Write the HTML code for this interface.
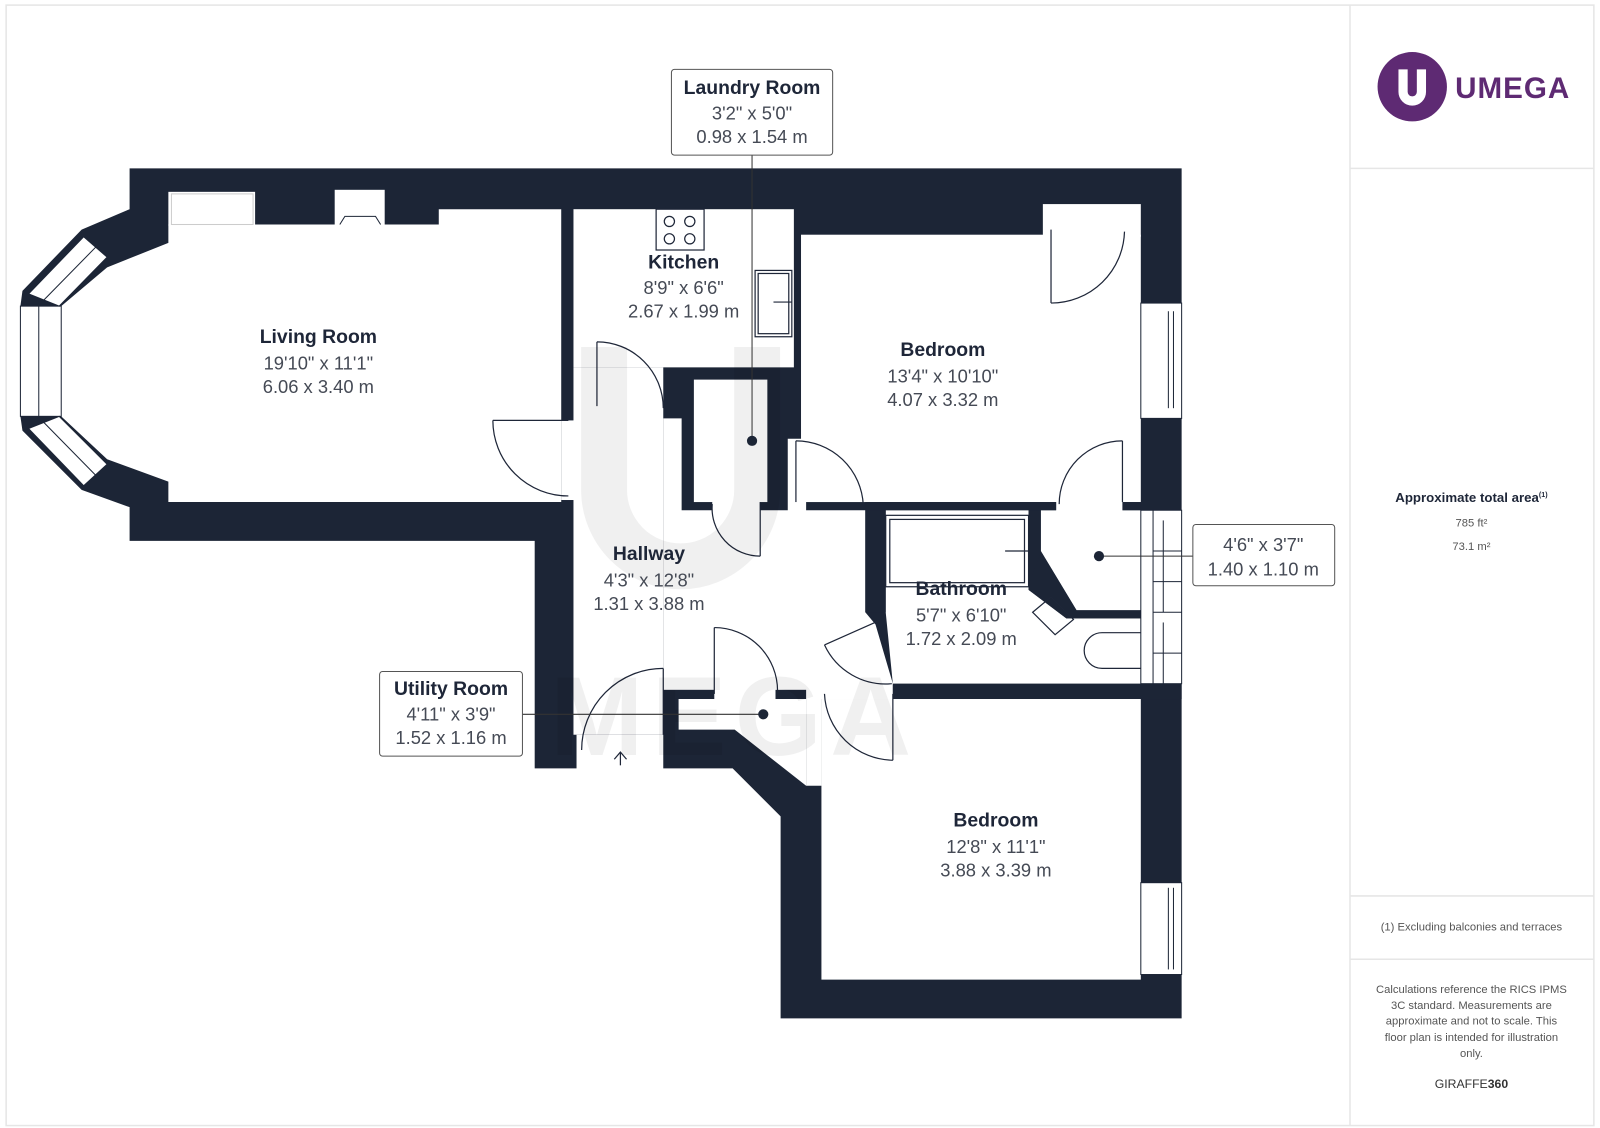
<!DOCTYPE html>
<html><head><meta charset="utf-8"><style>
body{margin:0;background:#fff}
svg{display:block}
text{font-family:"Liberation Sans",sans-serif}
.t{font-size:19px;font-weight:bold;fill:#1e2638;text-anchor:middle}
.d{font-size:18px;fill:#454a55;text-anchor:middle}
.s{font-size:11px;fill:#555;text-anchor:middle}
.ln{fill:none;stroke:#1e2638;stroke-width:1.2}
</style></head><body>
<svg width="1600" height="1128" viewBox="0 0 1568 1105.4" preserveAspectRatio="none" xmlns="http://www.w3.org/2000/svg">
<rect x="6" y="5" width="1556" height="1098" fill="#fff" stroke="#e6e6e6" stroke-width="1.5"/>
<line x1="1323" y1="5" x2="1323" y2="1103" stroke="#e6e6e6" stroke-width="1.5"/>
<line x1="1323" y1="165" x2="1562" y2="165" stroke="#e6e6e6" stroke-width="1.5"/>
<line x1="1323" y1="878" x2="1562" y2="878" stroke="#e6e6e6" stroke-width="1.5"/>
<line x1="1323" y1="940" x2="1562" y2="940" stroke="#e6e6e6" stroke-width="1.5"/>

<polygon fill="#1c2536" points="127,165 1158,165 1158,998 765,998 765,800 718,753 650,753 650,720 565,720 565,753 524,753 524,530 127,530 127,497 80,480 22,422 20,408 20,300 22,285 80,225 127,205"/>

<g fill="#fff">
<polygon points="165,220 165,238 105,262 60,300 60,408 105,450 165,472 165,492 550,492 550,205 430,205 430,220"/>
<rect x="165" y="188" width="85" height="33"/>
<rect x="328" y="186" width="49" height="35"/>
<rect x="562" y="205" width="216" height="155"/>
<rect x="562" y="360" width="88" height="360"/>
<rect x="550" y="412" width="14" height="78"/>
<rect x="680" y="372" width="72" height="120"/>
<polygon points="650,410 668,410 668,500 772,500 772,430 790,430 790,500 848,500 848,600 858,612 875,670 875,685 790,685 790,700 650,700"/>
<rect x="698" y="490" width="47" height="12"/>
<rect x="785" y="230" width="333" height="262"/>
<rect x="1022" y="200" width="96" height="32"/>
<rect x="1035" y="490" width="65" height="12"/>
<polygon points="1020,500 1118,500 1118,598 1055,598 1020,540"/>
<polygon points="868,500 1008,500 1008,578 1045,606 1118,606 1118,670 875,670 868,600"/>
<rect x="805" y="685" width="313" height="275"/>
<rect x="790" y="680" width="15" height="90"/>
<polygon points="665,685 790,685 790,770 720,715 665,715"/>
<rect x="700" y="676" width="60" height="12"/>
</g>
<g fill="#fff" stroke="#1c2536" stroke-width="1">
<rect x="20" y="300" width="40" height="108"/><line x1="38" y1="300" x2="38" y2="408"/>
<polygon points="28,288 82,232 105,252 58,300"/><line x1="43" y1="294" x2="94" y2="242"/>
<polygon points="28,420 58,408 105,455 82,476"/><line x1="43" y1="414" x2="94" y2="466"/>
<rect x="1118" y="297" width="40" height="113"/><line x1="1145" y1="305" x2="1145" y2="400"/><line x1="1150" y1="305" x2="1150" y2="400"/>
<rect x="1118" y="500" width="40" height="170"/><line x1="1130" y1="500" x2="1130" y2="670"/><line x1="1140" y1="510" x2="1140" y2="600"/><line x1="1140" y1="610" x2="1140" y2="670"/>
<line x1="1130" y1="540" x2="1158" y2="540"/><line x1="1130" y1="570" x2="1158" y2="570"/><line x1="1130" y1="600" x2="1158" y2="600"/><line x1="1130" y1="640" x2="1158" y2="640"/>
<rect x="1118" y="865" width="40" height="90"/><line x1="1145" y1="870" x2="1145" y2="950"/><line x1="1150" y1="870" x2="1150" y2="950"/>
<rect x="168" y="190" width="80" height="30" stroke="#ccc"/>
<path d="M333,220 L338,212 L368,212 L373,220" fill="none"/>
</g>
<g fill="#1c2536">
<rect x="1008" y="500" width="12" height="78"/>
<polygon points="1008,575 1020,540 1055,598 1118,598 1118,606 1045,606 1008,578"/>
<rect x="848" y="492" width="187" height="8"/>
<rect x="1100" y="492" width="18" height="8"/>
<rect x="848" y="500" width="20" height="100"/>
<rect x="875" y="670" width="283" height="15"/>
<rect x="650" y="676" width="50" height="9"/><rect x="760" y="676" width="30" height="9"/>
<rect x="650" y="685" width="15" height="35"/>
</g>
<g class="ln">
<rect x="643" y="205" width="47" height="40"/>
<circle cx="656" cy="217" r="5"/><circle cx="676" cy="217" r="5"/><circle cx="656" cy="234" r="5"/><circle cx="676" cy="234" r="5"/>
<rect x="740" y="265" width="36" height="65"/><rect x="743" y="268" width="30" height="59"/><line x1="758" y1="296" x2="776" y2="296"/>
<rect x="868" y="505" width="140" height="70"/><rect x="872" y="509" width="132" height="62"/><line x1="985" y1="540" x2="1008" y2="540"/>
<polygon points="1012,600 1030,585 1052,607 1034,622"/>
<path d="M1118,620 L1080,620 A17,17 0 0 0 1080,655 L1118,655"/>
<line x1="483" y1="412" x2="557" y2="412"/><path d="M483,412 A74,74 0 0 0 557,486"/>
<line x1="585" y1="335" x2="585" y2="398"/><path d="M585,335 A65,65 0 0 1 650,400"/>
<line x1="745" y1="492" x2="745" y2="545"/><path d="M698,494 A47,47 0 0 0 745,545"/>
<line x1="780" y1="432" x2="780" y2="492"/><path d="M780,432 A66,66 0 0 1 846,495"/>
<line x1="1100" y1="432" x2="1100" y2="492"/><path d="M1100,432 A62,62 0 0 0 1038,494"/>
<line x1="1030" y1="225" x2="1030" y2="297"/><path d="M1030,297 A72,72 0 0 0 1102,227"/>
<line x1="862" y1="608" x2="808" y2="632"/><path d="M808,632 A66,66 0 0 0 874,670"/>
<line x1="650" y1="655" x2="650" y2="720"/><path d="M650,655 A80,80 0 0 0 570,735"/>
<line x1="700" y1="615" x2="700" y2="680"/><path d="M700,615 A62,62 0 0 1 762,677"/>
<line x1="875" y1="680" x2="875" y2="745"/><path d="M875,745 A68,68 0 0 1 808,680"/>
<line x1="608" y1="750" x2="608" y2="737"/><path d="M602,744 L608,737 L614,744"/>
</g>
<path d="M592,340 L592,480 A75,75 0 0 0 742,480 L742,340" fill="none" stroke="#000" stroke-opacity="0.06" stroke-width="45"/>
<text x="720" y="740" font-size="110" font-weight="bold" fill="#000" fill-opacity="0.06" text-anchor="middle" style="letter-spacing:8px">MEGA</text>

<text class="t" x="312" y="336">Living Room</text><text class="d" x="312" y="362">19'10" x 11'1"</text><text class="d" x="312" y="385">6.06 x 3.40 m</text>
<text class="t" x="670" y="263">Kitchen</text><text class="d" x="670" y="288">8'9" x 6'6"</text><text class="d" x="670" y="311">2.67 x 1.99 m</text>
<text class="t" x="924" y="349">Bedroom</text><text class="d" x="924" y="375">13'4" x 10'10"</text><text class="d" x="924" y="398">4.07 x 3.32 m</text>
<text class="t" x="636" y="549">Hallway</text><text class="d" x="636" y="575">4'3" x 12'8"</text><text class="d" x="636" y="598">1.31 x 3.88 m</text>
<text class="t" x="942" y="583">Bathroom</text><text class="d" x="942" y="609">5'7" x 6'10"</text><text class="d" x="942" y="632">1.72 x 2.09 m</text>
<text class="t" x="976" y="810">Bedroom</text><text class="d" x="976" y="836">12'8" x 11'1"</text><text class="d" x="976" y="859">3.88 x 3.39 m</text>

<line x1="737" y1="152" x2="737" y2="432" stroke="#333" stroke-width="1"/><circle cx="737" cy="432" r="5" fill="#1c2536"/>
<rect x="658" y="68" width="158" height="84" rx="3" fill="#fff" stroke="#555"/>
<text class="t" x="737" y="92">Laundry Room</text><text class="d" x="737" y="117">3'2" x 5'0"</text><text class="d" x="737" y="140">0.98 x 1.54 m</text>
<line x1="512" y1="700" x2="748" y2="700" stroke="#333" stroke-width="1"/><circle cx="748" cy="700" r="5" fill="#1c2536"/>
<rect x="372" y="658" width="140" height="83" rx="3" fill="#fff" stroke="#555"/>
<text class="t" x="442" y="681">Utility Room</text><text class="d" x="442" y="706">4'11" x 3'9"</text><text class="d" x="442" y="729">1.52 x 1.16 m</text>
<line x1="1077" y1="545" x2="1169" y2="545" stroke="#333" stroke-width="1"/><circle cx="1077" cy="545" r="5" fill="#1c2536"/>
<rect x="1169" y="514" width="139" height="60" rx="3" fill="#fff" stroke="#555"/>
<text class="d" x="1238" y="540">4'6" x 3'7"</text><text class="d" x="1238" y="564">1.40 x 1.10 m</text>

<circle cx="1384" cy="85" r="34" fill="#5e2a73"/>
<path d="M1375,68 L1375,90 A9,9 0 0 0 1393,90 L1393,68" fill="none" stroke="#fff" stroke-width="9"/>
<text x="1426" y="96" font-size="29" font-weight="bold" fill="#5e2a73" style="letter-spacing:1px">UMEGA</text>

<text x="1442" y="492" font-size="13" font-weight="bold" fill="#1e2638" text-anchor="middle">Approximate total area<tspan font-size="7" dy="-5">(1)</tspan></text>
<text class="s" x="1442" y="516">785 ft²</text>
<text class="s" x="1442" y="539">73.1 m²</text>
<text class="s" x="1442" y="912">(1) Excluding balconies and terraces</text>
<text class="s" x="1442" y="973">Calculations reference the RICS IPMS</text>
<text class="s" x="1442" y="989">3C standard. Measurements are</text>
<text class="s" x="1442" y="1004">approximate and not to scale. This</text>
<text class="s" x="1442" y="1020">floor plan is intended for illustration</text>
<text class="s" x="1442" y="1036">only.</text>
<text x="1442" y="1066" font-size="12" fill="#333" text-anchor="middle">GIRAFFE<tspan font-weight="bold">360</tspan></text>
</svg>
</body></html>
